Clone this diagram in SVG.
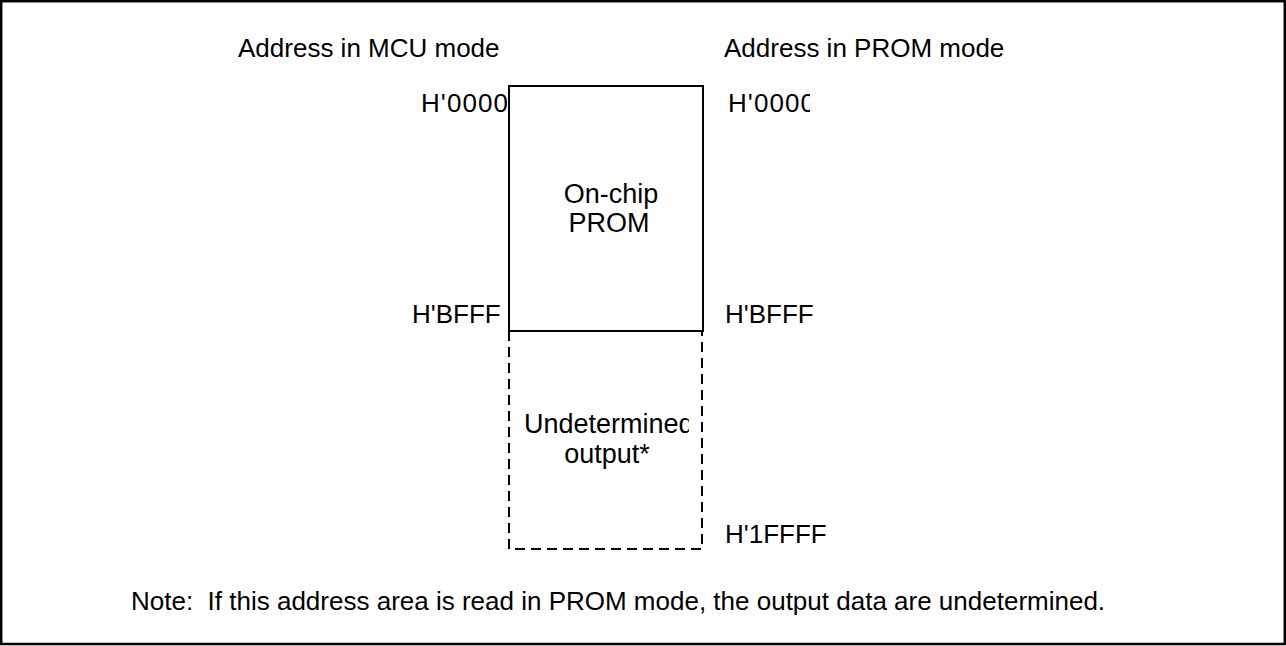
<svg xmlns="http://www.w3.org/2000/svg" width="1286" height="646" viewBox="0 0 1286 646">
<style>
text{font-family:"Liberation Sans",Arial,sans-serif;font-size:26px;fill:#000}
.mid{text-anchor:middle}
.big{font-size:27px}
.solid{fill:none;stroke:#000;stroke-width:2}
.dash{fill:none;stroke:#000;stroke-width:2;stroke-dasharray:10 6}
</style>
<defs>
<clipPath id="cl"><rect x="0" y="0" width="507" height="646"/></clipPath>
<clipPath id="cr"><rect x="0" y="0" width="810" height="646"/></clipPath>
<clipPath id="cu"><rect x="0" y="0" width="689" height="646"/></clipPath>
</defs>
<rect x="0" y="0" width="1286" height="646" fill="#fff"/>
<rect id="frame" x="1.2" y="1.2" width="1283.6" height="642.8" fill="none" stroke="#000" stroke-width="2.5"/>
<g id="headers">
<text x="238" y="57">Address in MCU mode</text>
<text x="724" y="57">Address in PROM mode</text>
</g>
<g id="prom">
<rect x="509" y="86" width="194" height="245" class="solid"/>
<text class="mid big" x="611" y="203">On-chip</text>
<text class="mid big" x="609" y="232">PROM</text>
</g>
<g id="undetermined">
<path d="M509,331 V549 H702 V331" class="dash"/>
<text class="big" x="524" y="433" clip-path="url(#cu)">Undetermined</text>
<text class="mid big" x="607" y="463">output*</text>
</g>
<g id="addresses">
<text x="421" y="112" textLength="87" clip-path="url(#cl)">H'0000</text>
<text x="412" y="323">H'BFFF</text>
<text x="728" y="112" textLength="87" clip-path="url(#cr)">H'0000</text>
<text x="725" y="323">H'BFFF</text>
<text x="725" y="543">H'1FFFF</text>
</g>
<g id="connectors"/>
<text id="note" x="131" y="610">Note:&#160; If this address area is read in PROM mode, the output data are undetermined.</text>
</svg>
